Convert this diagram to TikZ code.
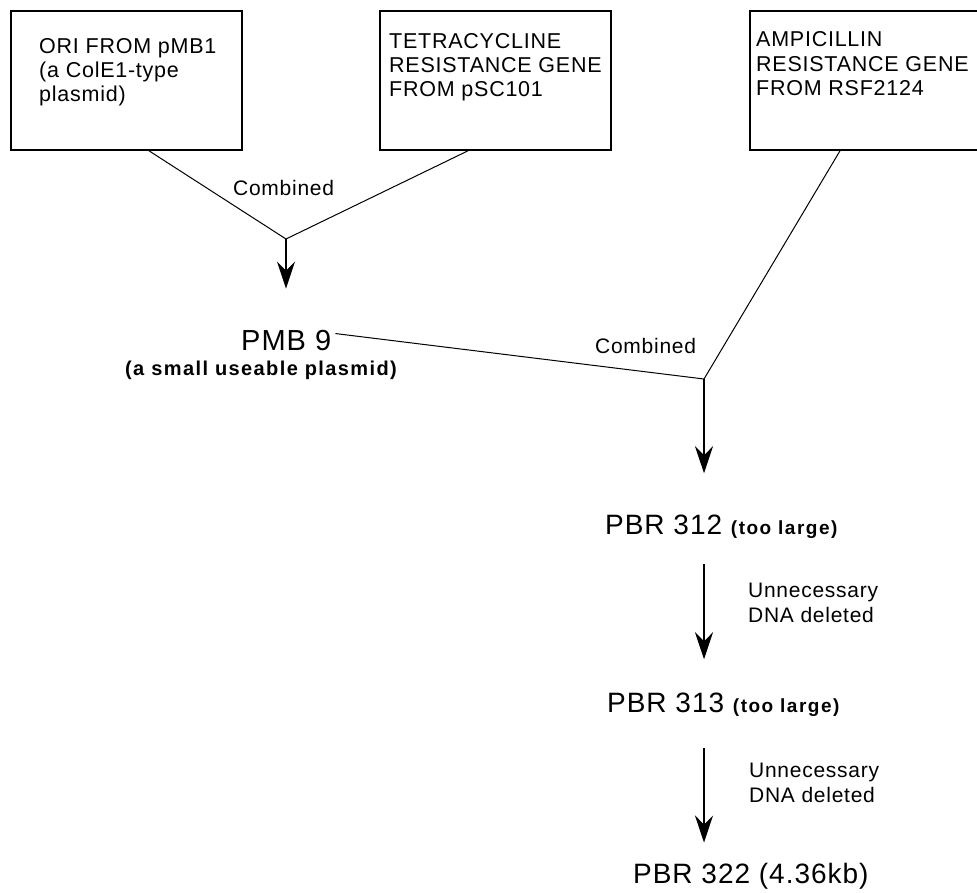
\documentclass[tikz,border=0pt]{standalone}
\usepackage{fontspec}
\setmainfont{Liberation Sans}[LetterSpace=3.5]
\usepackage{tikz}
\usetikzlibrary{arrows.meta,positioning,calc}
\tikzset{
  gene_box/.style={draw,line width=1.8pt,minimum width=231pt,minimum height=139pt,
    inner sep=0pt,anchor=north west},
  box_txt/.style={font=\fontsize{21.5}{24.3}\selectfont,align=left,inner sep=0pt,anchor=north west},
  step_txt/.style={font=\fontsize{21}{25}\selectfont,align=left,inner sep=0pt,anchor=north west},
  comb_txt/.style={font=\fontsize{21}{25}\selectfont,inner sep=0pt,anchor=base west},
  plasmid/.style={font=\fontsize{28}{32}\selectfont,inner sep=0pt,anchor=base west},
  sub_txt/.style={font=\fontsize{20}{24}\selectfont\bfseries\addfontfeatures{LetterSpace=7},
    inner sep=0pt,anchor=base west},
  join_line/.style={draw,line width=1pt},
  arr/.style={-{Stealth[length=27pt,width=18pt,inset=9pt]},draw,line width=1.2pt},
}
\newcommand{\smallnote}[1]{{\fontsize{19}{22}\selectfont\bfseries\addfontfeatures{LetterSpace=8}#1}}

\begin{document}
\begin{tikzpicture}[x=1pt,y=-1pt]
    \clip (0,0) rectangle (977,892);
    % source genes
    \node[gene_box] (ori) at (10,10) {};
    \node[gene_box] (tet) at (379,10) {};
    \node[gene_box] (amp) at (749,10) {};
    \node[box_txt] (ori_txt) at (39,38) {ORI FROM pMB1\\(a ColE1-type\\plasmid)};
    \node[box_txt] (tet_txt) at (389,33) {TETRACYCLINE\\RESISTANCE GENE\\FROM pSC101};
    \node[box_txt] (amp_txt) at (756,31.5) {AMPICILLIN\\RESISTANCE GENE\\FROM RSF2124};
    % plasmids
    \node[plasmid,font=\fontsize{29}{32}\selectfont] (pmb) at (241,350) {PMB 9};
    \node[sub_txt] (pmb_sub) at (125,375) {(a small useable plasmid)};
    \node[plasmid] (p312) at (605,534) {PBR 312 \smallnote{(too large)}};
    \node[plasmid] (p313) at (607,712) {PBR 313 \smallnote{(too large)}};
    \node[plasmid] (p322) at (633,883) {PBR 322 (4.36kb)};
    % labels
    \node[comb_txt] (comb1) at (233,195) {Combined};
    \node[comb_txt] (comb2) at (595,353) {Combined};
    \node[step_txt] (del1) at (748,583) {Unnecessary\\DNA deleted};
    \node[step_txt] (del2) at (749,763) {Unnecessary\\DNA deleted};
    % joins
    \coordinate (j1) at (286,239);
    \coordinate (j2) at (704,379);
    \draw[join_line] ($(ori.south west)+(139,0)$) -- (j1) -- ($(tet.south west)+(89,0)$);
    \draw[join_line] ($(pmb.north east)+(4,4)$) -- (j2) -- ($(amp.south west)+(91,0)$);
    \draw[arr,shorten >=41pt] (j1) -- (j1 |- pmb.north);
    \draw[arr,shorten >=41pt] (j2) -- (j2 |- p312.north);
    \draw[arr,shorten <=26pt,shorten >=33pt] (p312.south -| j2) -- (p313.north -| j2);
    \draw[arr,shorten <=32pt,shorten >=20pt] (p313.south -| j2) -- (p322.north -| j2);
\end{tikzpicture}
\end{document}
